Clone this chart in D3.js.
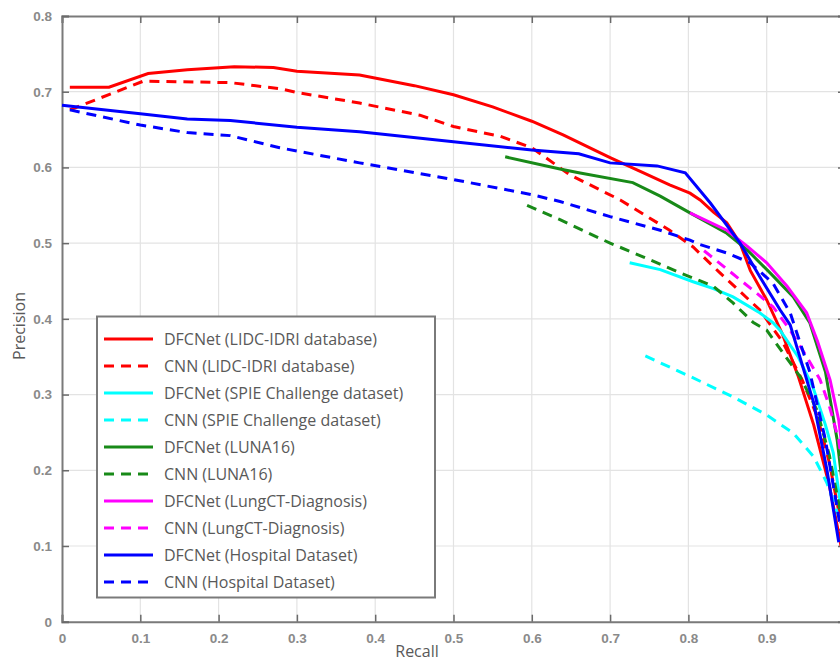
<!DOCTYPE html>
<html><head><meta charset="utf-8">
<script src="https://cdn.jsdelivr.net/npm/d3@7"></script>
<style>body{margin:0;background:#fff}svg{display:block}</style>
</head><body>
<svg id="c" width="840" height="661"></svg>
<script>
const xTicks = [0,0.1,0.2,0.3,0.4,0.5,0.6,0.7,0.8,0.9,1];
const xTickLabels = ["0","0.1","0.2","0.3","0.4","0.5","0.6","0.7","0.8","0.9",""];
const yTicks = [0,0.1,0.2,0.3,0.4,0.5,0.6,0.7,0.8];
const yTickLabels = ["0","0.1","0.2","0.3","0.4","0.5","0.6","0.7","0.8"];
const seriesNames = ["DFCNet (LIDC-IDRI database)","CNN (LIDC-IDRI database)","DFCNet (SPIE Challenge dataset)","CNN (SPIE Challenge dataset)","DFCNet (LUNA16)","CNN (LUNA16)","DFCNet (LungCT-Diagnosis)","CNN (LungCT-Diagnosis)","DFCNet (Hospital Dataset)","CNN (Hospital Dataset)"];
const seriesColors = ["#ff0000","#ff0000","#00ffff","#00ffff","#188a18","#188a18","#ff00ff","#ff00ff","#0000ff","#0000ff"];
const seriesDashed = [false,true,false,true,false,true,false,true,false,true];

const dfcLidcX = [0.01,0.06,0.11,0.16,0.22,0.27,0.3,0.38,0.45,0.5,0.55,0.6,0.64,0.7,0.742,0.776,0.802,0.815,0.832,0.849,0.866,0.879,0.9,0.92,0.94,0.96,0.98,0.995];
const dfcLidcY = [0.706,0.706,0.724,0.729,0.733,0.732,0.727,0.722,0.708,0.696,0.68,0.661,0.643,0.613,0.593,0.577,0.566,0.557,0.541,0.527,0.5,0.464,0.425,0.38,0.325,0.26,0.18,0.1];
const cnnLidcX = [0.01,0.104,0.215,0.278,0.3,0.38,0.457,0.5,0.56,0.6,0.649,0.713,0.776,0.806,0.84,0.891,0.92,0.945,0.965,0.98,0.995];
const cnnLidcY = [0.676,0.714,0.712,0.704,0.699,0.685,0.669,0.654,0.641,0.626,0.59,0.557,0.517,0.495,0.461,0.412,0.37,0.32,0.27,0.21,0.13];
const dfcSpieX = [0.725,0.764,0.806,0.832,0.857,0.891,0.908,0.917,0.94,0.959,0.975,0.985,0.995];
const dfcSpieY = [0.474,0.465,0.449,0.44,0.429,0.408,0.395,0.385,0.35,0.31,0.26,0.223,0.15];
const cnnSpieX = [0.745,0.802,0.857,0.9,0.934,0.96,0.977,0.995];
const cnnSpieY = [0.351,0.324,0.297,0.273,0.249,0.218,0.183,0.13];
const dfcLunaX = [0.566,0.636,0.66,0.729,0.764,0.802,0.849,0.875,0.904,0.934,0.955,0.975,0.99,0.998];
const dfcLunaY = [0.614,0.598,0.593,0.58,0.562,0.54,0.513,0.491,0.461,0.429,0.395,0.33,0.24,0.17];
const cnnLunaX = [0.594,0.636,0.7,0.742,0.789,0.832,0.857,0.883,0.9,0.943,0.964,0.98,0.995];
const cnnLunaY = [0.55,0.531,0.5,0.482,0.461,0.443,0.421,0.395,0.385,0.323,0.28,0.22,0.14];
const dfcLungX = [0.802,0.849,0.875,0.9,0.926,0.951,0.965,0.981,0.992,1.0];
const dfcLungY = [0.54,0.517,0.496,0.474,0.443,0.408,0.37,0.319,0.266,0.2];
const cnnLungX = [0.82,0.85,0.88,0.908,0.93,0.951,0.968,0.98,0.992,1.0];
const cnnLungY = [0.49,0.465,0.44,0.416,0.385,0.35,0.32,0.285,0.24,0.18];
const dfcHospX = [0.0,0.1,0.16,0.215,0.3,0.38,0.5,0.6,0.66,0.7,0.76,0.796,0.828,0.866,0.891,0.917,0.93,0.96,0.977,0.992];
const dfcHospY = [0.682,0.671,0.664,0.662,0.653,0.647,0.634,0.623,0.618,0.606,0.602,0.593,0.553,0.5,0.456,0.412,0.392,0.289,0.2,0.105];
const cnnHospX = [0.01,0.1,0.16,0.215,0.278,0.38,0.5,0.6,0.636,0.7,0.764,0.802,0.815,0.849,0.879,0.908,0.93,0.955,0.975,0.995];
const cnnHospY = [0.676,0.656,0.646,0.642,0.626,0.606,0.584,0.564,0.555,0.535,0.517,0.504,0.498,0.487,0.474,0.447,0.408,0.33,0.24,0.12];

const seriesX = [dfcLidcX,cnnLidcX,dfcSpieX,cnnSpieX,dfcLunaX,cnnLunaX,dfcLungX,cnnLungX,dfcHospX,cnnHospX];
const seriesY = [dfcLidcY,cnnLidcY,dfcSpieY,cnnSpieY,dfcLunaY,cnnLunaY,dfcLungY,cnnLungY,dfcHospY,cnnHospY];

const svg = d3.select("#c");
const L = 62, R = 845, T = 16, B = 621.7;
const x = d3.scaleLinear().domain([0,1]).range([L,R]);
const y = d3.scaleLinear().domain([0,0.8]).range([B,T]);

// grid
const g = svg.append("g");
g.selectAll(".gx").data(xTicks.slice(1,-1)).enter().append("line")
  .attr("x1",d=>x(d)).attr("x2",d=>x(d)).attr("y1",T).attr("y2",B)
  .attr("stroke","#e3e3e3").attr("stroke-width",1.2);
g.selectAll(".gy").data(yTicks.slice(1,-1)).enter().append("line")
  .attr("x1",L).attr("x2",R).attr("y1",d=>y(d)).attr("y2",d=>y(d))
  .attr("stroke","#e3e3e3").attr("stroke-width",1.2);

// axes
const fx = d => xTickLabels[xTicks.indexOf(d)];
const fy = d => yTickLabels[yTicks.indexOf(d)];
const ax = svg.append("g").attr("transform",`translate(0,${B})`)
  .call(d3.axisBottom(x).tickValues(xTicks).tickSize(-7).tickPadding(12).tickFormat(fx));
const axT = svg.append("g").attr("transform",`translate(0,${T})`)
  .call(d3.axisTop(x).tickValues(xTicks).tickSize(-7).tickFormat(""));
const ay = svg.append("g").attr("transform",`translate(${L},0)`)
  .call(d3.axisLeft(y).tickValues(yTicks).tickSize(-7).tickPadding(10).tickFormat(fy));
const ayR = svg.append("g").attr("transform",`translate(${R},0)`)
  .call(d3.axisRight(y).tickValues(yTicks).tickSize(-7).tickFormat(""));
[ax,axT,ay,ayR].forEach(a=>{
  a.select(".domain").attr("stroke","#7a7a7a").attr("stroke-width",2);
  a.selectAll(".tick line").attr("stroke","#6a6a6a").attr("stroke-width",1.5);
  a.selectAll("text").attr("fill","#8a8a8a").style("font-family","'Liberation Sans', Arial, sans-serif")
   .style("font-size","13.5px").style("font-weight","bold");
});

// lines
const line = d3.line().x(d=>x(d[0])).y(d=>y(d[1]));
seriesNames.forEach((n,i)=>{
  const pts = seriesX[i].map((v,j)=>[v,seriesY[i][j]]);
  svg.append("path").datum(pts).attr("d",line).attr("fill","none")
    .attr("stroke",seriesColors[i]).attr("stroke-width",3)
    .attr("stroke-dasharray",seriesDashed[i]?"10,7":null);
});

// axis titles
svg.append("text").attr("x",417).attr("y",657).attr("text-anchor","middle")
  .attr("fill","#595959").style("font-family","'Open Sans', sans-serif").style("font-size","16px").text("Recall");
svg.append("text").attr("transform","translate(25,326) rotate(-90)").attr("text-anchor","middle")
  .attr("fill","#595959").style("font-family","'Open Sans', sans-serif").style("font-size","16px").text("Precision");

// legend
const lg = svg.append("g");
lg.append("rect").attr("x",97).attr("y",316.5).attr("width",338).attr("height",281)
  .attr("fill","#fff").attr("stroke","#7a7a7a").attr("stroke-width",2);
seriesNames.forEach((n,i)=>{
  const yy = 339 + i*27;
  lg.append("line").attr("x1",104).attr("x2",153).attr("y1",yy).attr("y2",yy)
    .attr("stroke",seriesColors[i]).attr("stroke-width",3)
    .attr("stroke-dasharray",seriesDashed[i]?"10,7":null);
  lg.append("text").attr("x",164).attr("y",yy+6).attr("fill","#595959")
    .style("font-family","'Open Sans', sans-serif").style("font-size","16px").text(n);
});
</script>
</body></html>
